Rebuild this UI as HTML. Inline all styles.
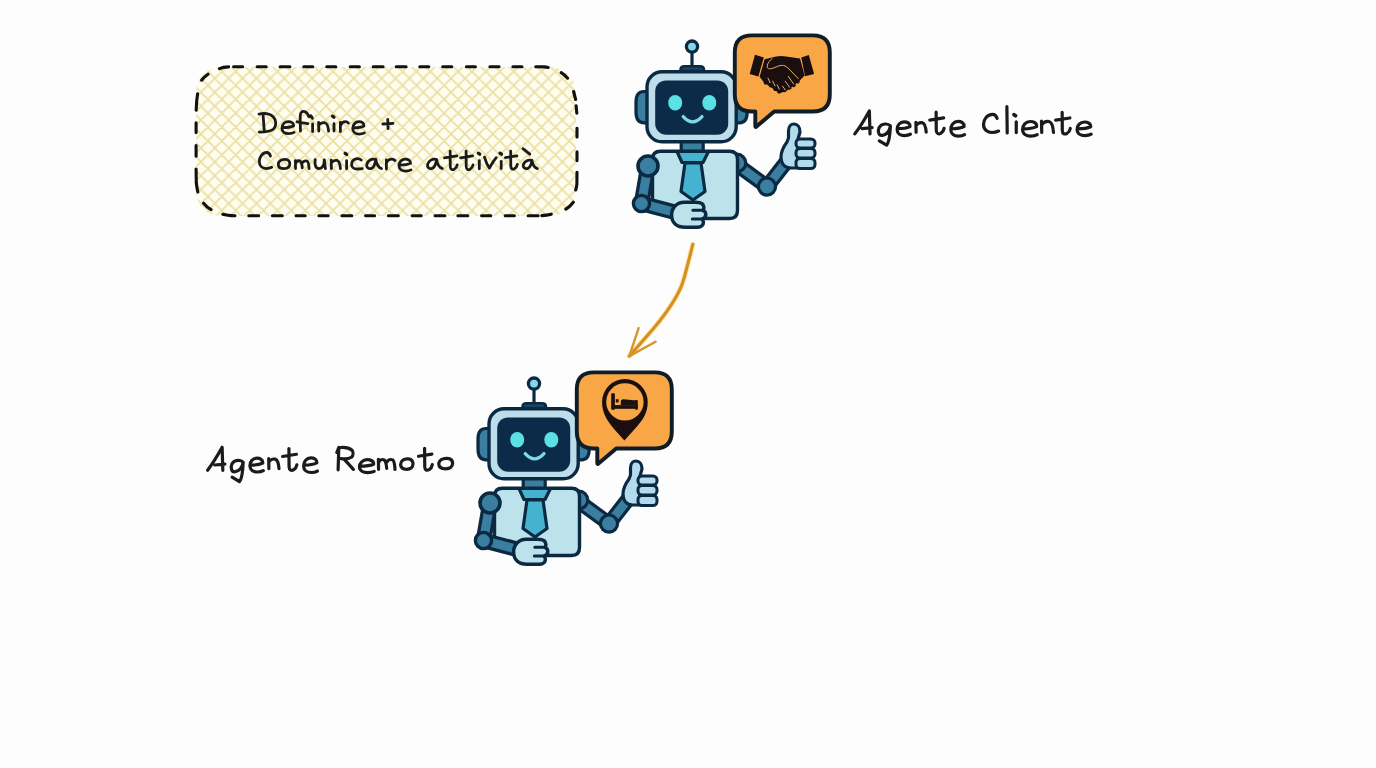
<!DOCTYPE html>
<html><head><meta charset="utf-8">
<style>
html,body{margin:0;padding:0;background:#fdfdfd;}
body{width:1376px;height:768px;overflow:hidden;font-family:"Liberation Sans",sans-serif;}
svg{display:block;position:absolute;left:0;top:0;}
</style></head>
<body>
<svg width="1376" height="768" viewBox="0 0 1376 768">
<defs>
<filter id="soft" x="-2%" y="-2%" width="104%" height="104%"><feGaussianBlur stdDeviation="0.75"/></filter>
<pattern id="hatch" patternUnits="userSpaceOnUse" width="13.9" height="13.9" patternTransform="translate(6.3,8.9)">
 <rect width="13.9" height="13.9" fill="#fefdf0"/>
 <path d="M0,13.9 L13.9,0 M-2,15.9 L2,11.9 M11.9,2 L15.9,-2 M0,0 L13.9,13.9 M-2,-2 L2,2 M11.9,11.9 L15.9,15.9" stroke="#ebdf9f" stroke-width="1.6"/>
</pattern>

</defs>

<!-- dashed box -->
<rect x="196" y="67" width="380" height="149" rx="25" fill="url(#hatch)" filter="url(#soft)"/>
<path d="M219.5,68.6Q223,67.2 228.6,66.9 M233.6,66.8L242.6,66.8 M257.1,66.8L266.2,66.8 M280.1,66.8L289.9,66.8 M303.8,66.8L312.8,66.8 M326.7,66.8L335.8,66.8 M350.2,66.8L359.4,66.8 M373.2,66.8L383.1,66.8 M396.2,66.8L406.1,66.8 M419.8,66.8L428.8,66.8 M442.7,66.8L451.8,66.8 M466.4,66.8L475.4,66.8 M489.9,66.8L499.1,66.8 M512.9,66.8L522.0,66.8 M535.7,66.8L544,66.9Q546.5,67 548.2,67.4 M201.6,80.2Q204.5,76.5 208,74.2 M197.6,93.8Q196.4,101 196.2,110.2 M196.1,122.8L196.1,132.6 M196.1,145.5L196.1,156.2 M196.1,169L196.3,183Q196.9,188 197.8,192 M203.6,203.2Q207,207.5 211.1,209.6 M222.8,214.3Q227,215.6 235,215.8 M248.8,215.7L258.6,215.7 M272.4,215.7L282.3,215.7 M296.1,215.7L305.2,215.7 M318.9,215.7L328.1,215.7 M341.9,215.7L351.8,215.7 M365.6,215.7L374.6,215.7 M388.4,215.7L398.3,215.7 M412.2,215.7L421.2,215.7 M435.1,215.7L444.9,215.7 M457.9,215.7L467.8,215.7 M481.6,215.7L490.8,215.7 M505.2,215.7L514.4,215.7 M528.1,215.7L538.1,215.7 M541.8,215.6Q547,215.3 551.2,214.2 M573.3,202.2Q569.8,206.8 565.8,209.2 M573.6,91.5L575.6,99.5 M576.1,105.7L576.8,113.1 M577.0,128.2L577.0,136.9 M577.0,151.9L577.0,160.6 M577,172.3L576.9,184Q576.5,187.5 575.7,190 M561.2,72.6Q565,75 567.6,78.2" fill="none" stroke="#111" stroke-width="3.1" stroke-linecap="round"/>


<g>
 <!-- antenna -->
 <line x1="692" y1="52" x2="692" y2="66" stroke="#0b2a42" stroke-width="3.2"/>
 <circle cx="692" cy="46.6" r="5.6" fill="#86d5e8" stroke="#0b2a42" stroke-width="3.3"/>
 <path d="M680.5,71 L680.5,70 Q680.5,66.2 684.5,66.2 L700,66.2 Q704,66.2 704,70 L704,71 Z" fill="#1a4866" stroke="#0b2a42" stroke-width="2.6" stroke-linejoin="round"/>
 <!-- ears -->
 <path d="M650,91.5 L644,91.5 C638.5,91.5 636,95.5 636,102 L636,112 C636,118.8 638.5,122.8 644,122.8 L650,122.8 Z" fill="#3a7ea0" stroke="#0b2a42" stroke-width="3.2"/>
 <path d="M733,91.5 L739.5,91.5 C745,91.5 747.2,95.5 747.2,102 L747.2,112 C747.2,118.8 745,122.8 739.5,122.8 L733,122.8 Z" fill="#3a7ea0" stroke="#0b2a42" stroke-width="3.2"/>
 <!-- neck -->
 <rect x="681.2" y="140" width="22" height="12" fill="#3a7ea0" stroke="#0b2a42" stroke-width="3.2"/>
 <!-- head -->
 <rect x="647" y="71.8" width="89.2" height="70" rx="15" fill="#bcdde9" stroke="#0b2a42" stroke-width="3.4"/>
 <rect x="655.2" y="80.4" width="73" height="54.4" rx="11" fill="#0b2b48"/>
 <ellipse cx="675.2" cy="102.8" rx="7" ry="7.8" fill="#5ae0e5"/>
 <ellipse cx="709.3" cy="102.8" rx="7" ry="7.8" fill="#5ae0e5"/>
 <path d="M683.2,116.6 Q692.6,127 702,116.6" fill="none" stroke="#7cdbe6" stroke-width="3.3" stroke-linecap="round"/>
 <!-- right arm -->
 <path d="M736,164 L767,186.6 L787,161" fill="none" stroke="#0b2a42" stroke-width="15.2" stroke-linejoin="round"/>
 <path d="M736,164 L767,186.6 L787,161" fill="none" stroke="#3a7ea0" stroke-width="8.8" stroke-linejoin="round"/>
 <circle cx="767" cy="186.6" r="8.6" fill="#3a7ea0" stroke="#0b2a42" stroke-width="3.2"/>
 <circle cx="737" cy="163" r="8.8" fill="#3a7ea0" stroke="#0b2a42" stroke-width="3.2"/>
 <!-- body -->
 <path d="M660.5,151.2 L729.5,151.2 Q737.5,151.2 737.5,159.2 L737.5,210.5 Q737.5,218.5 729.5,218.5 L680,218.5 L652.5,207 L652.5,159.2 Q652.5,151.2 660.5,151.2 Z" fill="#bce2eb" stroke="#0b2a42" stroke-width="3.4"/>
 <!-- tie -->
 <path d="M677,151.5 L708.5,151.5 L703,162.5 L682,162.5 Z" fill="#45b2d0" stroke="#0b2a42" stroke-width="3.2" stroke-linejoin="round"/>
 <path d="M685,163 L701,163 L705,191.5 L693,200 L681,191.5 Z" fill="#45b2d0" stroke="#0b2a42" stroke-width="3.2" stroke-linejoin="round"/>
 <!-- left arm -->
 <path d="M648,166 L641.5,203.5 L675,212.3" fill="none" stroke="#0b2a42" stroke-width="15.6" stroke-linejoin="round"/>
 <path d="M648,166 L641.5,203.5 L675,212.3" fill="none" stroke="#3a7ea0" stroke-width="9" stroke-linejoin="round"/>
 <circle cx="648" cy="166" r="10" fill="#3a7ea0" stroke="#0b2a42" stroke-width="3.6"/>
 <circle cx="641.5" cy="203.5" r="8.1" fill="#3a7ea0" stroke="#0b2a42" stroke-width="3.4"/>
 <!-- left hand -->
 <path d="M684.5,202.3 C676.5,202.3 671.6,208 671.6,215 C671.6,223 677,227.2 685,227.2 L697.5,227.2 C701.5,227.2 703.4,225 703.4,222.5 C703.4,221 702.8,219.8 702,219.2 C704.8,218.3 705.8,216.5 705.8,214.6 C705.8,212.6 704.8,211 703,210.3 C703.6,209.5 703.9,208.5 703.9,207.5 C703.9,204 700.5,202.3 695.5,202.3 Z" fill="#bce2eb" stroke="#0b2a42" stroke-width="3.5" stroke-linejoin="round"/>
 <path d="M692.8,210.3 L703,210.3 M692.3,219.1 L702.5,219.1" stroke="#0b2a42" stroke-width="3" stroke-linecap="round"/>
 <!-- thumbs up -->
 <path d="M798,168 L791,168 C785,168 781,164 781,157 C781,150 784,146 787,142 L788.5,138 L788.5,131 C788.5,126.5 791,124 794,124 C797.5,124 800,127 800,132 L798,139 Z" fill="#b2dcee" stroke="#0b2a42" stroke-width="3.2" stroke-linejoin="round"/>
 <rect x="796" y="139" width="19" height="9" rx="4" fill="#b2dcee" stroke="#0b2a42" stroke-width="3"/>
 <rect x="796" y="148.5" width="19" height="9.5" rx="4" fill="#b2dcee" stroke="#0b2a42" stroke-width="3"/>
 <rect x="796" y="158.5" width="19" height="10" rx="4" fill="#b2dcee" stroke="#0b2a42" stroke-width="3"/>
 <!-- bubble -->
 <path d="M752,35.4 L812.8,35.4 Q829.8,35.4 829.8,52.4 L829.8,94.5 Q829.8,111.5 812.8,111.5 L774.2,111.5 L756.5,126.5 Q755.3,127.6 755.3,126 L755.3,111.5 L751.8,111.5 Q734.8,111.5 734.8,94.5 L734.8,52.4 Q734.8,35.4 751.8,35.4 Z" fill="#f9a646" stroke="#101d26" stroke-width="3.9" stroke-linejoin="round"/>
</g>
<g transform="translate(-158,337)">
 <!-- antenna -->
 <line x1="692" y1="52" x2="692" y2="66" stroke="#0b2a42" stroke-width="3.2"/>
 <circle cx="692" cy="46.6" r="5.6" fill="#86d5e8" stroke="#0b2a42" stroke-width="3.3"/>
 <path d="M680.5,71 L680.5,70 Q680.5,66.2 684.5,66.2 L700,66.2 Q704,66.2 704,70 L704,71 Z" fill="#1a4866" stroke="#0b2a42" stroke-width="2.6" stroke-linejoin="round"/>
 <!-- ears -->
 <path d="M650,91.5 L644,91.5 C638.5,91.5 636,95.5 636,102 L636,112 C636,118.8 638.5,122.8 644,122.8 L650,122.8 Z" fill="#3a7ea0" stroke="#0b2a42" stroke-width="3.2"/>
 <path d="M733,91.5 L739.5,91.5 C745,91.5 747.2,95.5 747.2,102 L747.2,112 C747.2,118.8 745,122.8 739.5,122.8 L733,122.8 Z" fill="#3a7ea0" stroke="#0b2a42" stroke-width="3.2"/>
 <!-- neck -->
 <rect x="681.2" y="140" width="22" height="12" fill="#3a7ea0" stroke="#0b2a42" stroke-width="3.2"/>
 <!-- head -->
 <rect x="647" y="71.8" width="89.2" height="70" rx="15" fill="#bcdde9" stroke="#0b2a42" stroke-width="3.4"/>
 <rect x="655.2" y="80.4" width="73" height="54.4" rx="11" fill="#0b2b48"/>
 <ellipse cx="675.2" cy="102.8" rx="7" ry="7.8" fill="#5ae0e5"/>
 <ellipse cx="709.3" cy="102.8" rx="7" ry="7.8" fill="#5ae0e5"/>
 <path d="M683.2,116.6 Q692.6,127 702,116.6" fill="none" stroke="#7cdbe6" stroke-width="3.3" stroke-linecap="round"/>
 <!-- right arm -->
 <path d="M736,164 L767,186.6 L787,161" fill="none" stroke="#0b2a42" stroke-width="15.2" stroke-linejoin="round"/>
 <path d="M736,164 L767,186.6 L787,161" fill="none" stroke="#3a7ea0" stroke-width="8.8" stroke-linejoin="round"/>
 <circle cx="767" cy="186.6" r="8.6" fill="#3a7ea0" stroke="#0b2a42" stroke-width="3.2"/>
 <circle cx="737" cy="163" r="8.8" fill="#3a7ea0" stroke="#0b2a42" stroke-width="3.2"/>
 <!-- body -->
 <path d="M660.5,151.2 L729.5,151.2 Q737.5,151.2 737.5,159.2 L737.5,210.5 Q737.5,218.5 729.5,218.5 L680,218.5 L652.5,207 L652.5,159.2 Q652.5,151.2 660.5,151.2 Z" fill="#bce2eb" stroke="#0b2a42" stroke-width="3.4"/>
 <!-- tie -->
 <path d="M677,151.5 L708.5,151.5 L703,162.5 L682,162.5 Z" fill="#45b2d0" stroke="#0b2a42" stroke-width="3.2" stroke-linejoin="round"/>
 <path d="M685,163 L701,163 L705,191.5 L693,200 L681,191.5 Z" fill="#45b2d0" stroke="#0b2a42" stroke-width="3.2" stroke-linejoin="round"/>
 <!-- left arm -->
 <path d="M648,166 L641.5,203.5 L675,212.3" fill="none" stroke="#0b2a42" stroke-width="15.6" stroke-linejoin="round"/>
 <path d="M648,166 L641.5,203.5 L675,212.3" fill="none" stroke="#3a7ea0" stroke-width="9" stroke-linejoin="round"/>
 <circle cx="648" cy="166" r="10" fill="#3a7ea0" stroke="#0b2a42" stroke-width="3.6"/>
 <circle cx="641.5" cy="203.5" r="8.1" fill="#3a7ea0" stroke="#0b2a42" stroke-width="3.4"/>
 <!-- left hand -->
 <path d="M684.5,202.3 C676.5,202.3 671.6,208 671.6,215 C671.6,223 677,227.2 685,227.2 L697.5,227.2 C701.5,227.2 703.4,225 703.4,222.5 C703.4,221 702.8,219.8 702,219.2 C704.8,218.3 705.8,216.5 705.8,214.6 C705.8,212.6 704.8,211 703,210.3 C703.6,209.5 703.9,208.5 703.9,207.5 C703.9,204 700.5,202.3 695.5,202.3 Z" fill="#bce2eb" stroke="#0b2a42" stroke-width="3.5" stroke-linejoin="round"/>
 <path d="M692.8,210.3 L703,210.3 M692.3,219.1 L702.5,219.1" stroke="#0b2a42" stroke-width="3" stroke-linecap="round"/>
 <!-- thumbs up -->
 <path d="M798,168 L791,168 C785,168 781,164 781,157 C781,150 784,146 787,142 L788.5,138 L788.5,131 C788.5,126.5 791,124 794,124 C797.5,124 800,127 800,132 L798,139 Z" fill="#b2dcee" stroke="#0b2a42" stroke-width="3.2" stroke-linejoin="round"/>
 <rect x="796" y="139" width="19" height="9" rx="4" fill="#b2dcee" stroke="#0b2a42" stroke-width="3"/>
 <rect x="796" y="148.5" width="19" height="9.5" rx="4" fill="#b2dcee" stroke="#0b2a42" stroke-width="3"/>
 <rect x="796" y="158.5" width="19" height="10" rx="4" fill="#b2dcee" stroke="#0b2a42" stroke-width="3"/>
 <!-- bubble -->
 <path d="M752,35.4 L812.8,35.4 Q829.8,35.4 829.8,52.4 L829.8,94.5 Q829.8,111.5 812.8,111.5 L774.2,111.5 L756.5,126.5 Q755.3,127.6 755.3,126 L755.3,111.5 L751.8,111.5 Q734.8,111.5 734.8,94.5 L734.8,52.4 Q734.8,35.4 751.8,35.4 Z" fill="#f9a646" stroke="#101d26" stroke-width="3.9" stroke-linejoin="round"/>
</g>

<!-- handshake -->
<g>
 <path d="M755,54.7 L763.8,57.5 L758.4,76.6 L749.7,74.1 Z" fill="#1a0e0e"/>
 <path d="M801.3,57.5 L808.8,55 L814.1,74.1 L805,76.3 Z" fill="#1a0e0e"/>
 <path d="M764.6,59.3 L772,57.6 Q778,55.3 786,56.4 L800,58.6 L804.6,75.6 L798.8,81.5 L786,91.5 L779,93 L772,88 L764,82.5 L759.6,76.8 Z" fill="#1a0e0e"/>
 <g stroke="#1a0e0e" stroke-width="3.9" stroke-linecap="round">
  <path d="M765.6,82.6 L768.8,79.6 M770.6,85.5 L773.8,82.5 M775.2,89 L778.2,86 M779.2,91.6 L781.5,89.3"/>
  <path d="M782.5,85 L784.4,90.2 M787,82 L789.6,87.8 M791,78.5 L793.8,85.2 M795,75 L797.8,81.6"/>
 </g>
 <path d="M772.5,58.2 C769,61 766.8,64.5 767.3,67.3 C768,69.8 772,68.8 776.5,66.8 C781,64.8 784,64.8 787.5,67.5 L798.5,78.8" fill="none" stroke="#f3b878" stroke-width="0.95"/>
 <g fill="none" stroke="#f0c090" stroke-width="0.9">
  <path d="M788.1,76.1 L793.8,84.2 M785,80.9 L789.8,87.6 M782.3,85.9 L785.7,90.3"/>
  <path d="M767.8,77.8 L770.3,83 M772.5,80.8 L775.2,86.3 M777,84.5 L779.4,89.5"/>
 </g>
</g>
<!-- pin -->
<g transform="translate(0,0)">
 <path d="M602.1,401.9 C602.1,412 606,419 613.6,428.4 L624.4,440.4 L635.2,428.4 C643.8,419 647.7,412 647.7,401.9 A22.8,22.8 0 0 0 602.1,401.9 Z" fill="#1a0e0e"/>
 <circle cx="624.9" cy="401.9" r="18.7" fill="#f9a646"/>
 <rect x="611.2" y="393.2" width="3.7" height="16.5" rx="1" fill="#1c1010"/>
 <rect x="611.7" y="405.1" width="26" height="3.7" fill="#1c1010"/>
 <rect x="635" y="400" width="2.8" height="9.7" rx="1" fill="#1c1010"/>
 <rect x="615.8" y="399.2" width="2.8" height="3.2" fill="#1c1010"/>
 <path d="M620.8,405 L620.8,402 Q620.8,399.2 623.5,399.2 L636.3,400.5 L636.3,405 Z" fill="#1c1010"/>
</g>

<!-- arrow -->
<path d="M692.8,244.3 C692.0,247.3 690.2,255.2 688.3,262.1 C686.4,269.0 684.5,278.5 681.5,285.8 C678.5,293.1 674.9,299.2 670.4,306.1 C665.9,313.0 661.4,319.0 654.5,327.3 C647.6,335.6 633.5,351.3 629.3,356.1" fill="none" stroke="#f6cf6e" stroke-opacity="0.55" stroke-width="5" stroke-linecap="round"/>
<path d="M692.8,244.3 C692.0,247.3 690.2,255.2 688.3,262.1 C686.4,269.0 684.5,278.5 681.5,285.8 C678.5,293.1 674.9,299.2 670.4,306.1 C665.9,313.0 661.4,319.0 654.5,327.3 C647.6,335.6 633.5,351.3 629.3,356.1" fill="none" stroke="#d98f1d" stroke-width="3.1" stroke-linecap="round"/>
<path d="M638.6,328.1 L629.3,356.1 L655.6,341.7" fill="none" stroke="#d4962c" stroke-width="2.4" stroke-linecap="round" stroke-linejoin="round"/>

<g fill="none" stroke="#1b1b1b" stroke-width="2.8" stroke-linecap="round" stroke-linejoin="round" vector-effect="non-scaling-stroke">
<path vector-effect="non-scaling-stroke" transform="matrix(0.1727,0,0,0.1965,259.000,112.841)" d="M0,6 C30,0 62,4 82,20 C102,38 102,66 84,82 C64,97 30,98 2,98 M24,14 L30,88"/>
<path vector-effect="non-scaling-stroke" transform="matrix(0.1220,0,0,0.1190,281.900,121.700)" d="M6,50 C35,50 75,45 96,35 C98,10 75,0 52,0 C22,0 0,25 0,55 C0,85 25,100 55,100 C75,100 90,96 100,90"/>
<path vector-effect="non-scaling-stroke" transform="matrix(0.1530,0,0,0.1983,297.100,111.271)" d="M100,36 C96,27 91,21 86,23 C82,25 80,29 77,27 C72,17 66,7 55,3 C45,0 31,0 25,8 C21,14 20,22 20,30 L22,100 M0,53 L70,62"/>
<path vector-effect="non-scaling-stroke" d="M312.60,123.90 L312.60,131.60"/>
<path vector-effect="non-scaling-stroke" transform="matrix(0.1000,0,0,0.0870,318.600,122.400)" d="M0,0 L2,100 M1,32 C18,8 40,0 62,4 C88,10 96,45 100,100"/>
<path vector-effect="non-scaling-stroke" d="M332.50,116.20 L333.90,117.20" stroke-width="3.40"/>
<path vector-effect="non-scaling-stroke" d="M334.00,123.70 L334.00,131.10"/>
<path vector-effect="non-scaling-stroke" transform="matrix(0.0800,0,0,0.0990,340.400,121.700)" d="M0,8 L0,100 M0,40 C15,10 40,0 62,0 C80,0 92,6 100,14"/>
<path vector-effect="non-scaling-stroke" transform="matrix(0.1170,0,0,0.1240,352.700,121.700)" d="M6,50 C35,50 75,45 96,35 C98,10 75,0 52,0 C22,0 0,25 0,55 C0,85 25,100 55,100 C75,100 90,96 100,90"/>
<path vector-effect="non-scaling-stroke" transform="matrix(0.1020,0,0,0.0920,382.800,119.400)" d="M0,50 L100,44 M48,0 L52,100"/>
<path vector-effect="non-scaling-stroke" transform="matrix(0.1240,0,0,0.1610,259.300,152.500)" d="M90,22 C85,8 75,0 60,0 C25,0 0,28 0,56 C0,85 28,100 56,100 C76,100 90,96 100,92"/>
<path vector-effect="non-scaling-stroke" transform="matrix(0.1150,0,0,0.0919,278.300,159.412)" d="M60,0 C25,-2 0,20 0,55 C0,85 20,100 50,100 C82,100 100,78 100,48 C100,20 85,2 60,0 Z"/>
<path vector-effect="non-scaling-stroke" transform="matrix(0.1370,0,0,0.0816,295.400,160.437)" d="M0,2 L1,100 M1,34 C8,8 22,0 32,6 C45,14 48,45 50,92 M49,32 C58,6 75,0 86,8 C96,18 98,50 100,100"/>
<path vector-effect="non-scaling-stroke" transform="matrix(0.1106,0,0,0.0900,314.342,159.600)" d="M8,0 C2,50 8,100 42,100 C76,100 90,62 90,2 L100,100"/>
<path vector-effect="non-scaling-stroke" transform="matrix(0.0920,0,0,0.0850,331.200,160.100)" d="M0,0 L2,100 M1,32 C18,8 40,0 62,4 C88,10 96,45 100,100"/>
<path vector-effect="non-scaling-stroke" d="M345.20,153.40 L346.60,154.40" stroke-width="3.40"/>
<path vector-effect="non-scaling-stroke" d="M346.60,160.70 L346.60,168.80"/>
<path vector-effect="non-scaling-stroke" transform="matrix(0.1070,0,0,0.1063,351.600,158.368)" d="M90,16 C75,2 55,0 40,4 C12,12 0,38 0,60 C0,86 25,100 52,100 C72,100 88,98 100,96"/>
<path vector-effect="non-scaling-stroke" transform="matrix(0.1500,0,0,0.1036,366.503,158.387)" d="M60,10 C35,-2 8,22 2,58 C-2,85 12,102 30,98 C46,94 56,70 62,8 C66,52 80,88 100,98"/>
<path vector-effect="non-scaling-stroke" transform="matrix(0.0860,0,0,0.0990,386.400,159.100)" d="M0,8 L0,100 M0,40 C15,10 40,0 62,0 C80,0 92,6 100,14"/>
<path vector-effect="non-scaling-stroke" transform="matrix(0.1200,0,0,0.1200,399.000,159.100)" d="M6,50 C35,50 75,45 96,35 C98,10 75,0 52,0 C22,0 0,25 0,55 C0,85 25,100 55,100 C75,100 90,96 100,90"/>
<path vector-effect="non-scaling-stroke" transform="matrix(0.1500,0,0,0.1025,427.303,158.495)" d="M60,10 C35,-2 8,22 2,58 C-2,85 12,102 30,98 C46,94 56,70 62,8 C66,52 80,88 100,98"/>
<path vector-effect="non-scaling-stroke" transform="matrix(0.1347,0,0,0.1861,444.096,151.100)" d="M45,0 L46,84 C47,100 62,102 76,97 C88,92 96,82 98,74 M3,36 L95,26"/>
<path vector-effect="non-scaling-stroke" transform="matrix(0.1305,0,0,0.1861,460.208,151.100)" d="M45,0 L46,84 C47,100 62,102 76,97 C88,92 96,82 98,74 M3,36 L95,26"/>
<path vector-effect="non-scaling-stroke" d="M478.30,153.20 L479.70,154.20" stroke-width="3.40"/>
<path vector-effect="non-scaling-stroke" d="M479.30,160.70 L479.30,168.80"/>
<path vector-effect="non-scaling-stroke" transform="matrix(0.1170,0,0,0.1090,484.500,157.200)" d="M0,0 C10,40 28,80 42,100 C58,70 80,30 100,4"/>
<path vector-effect="non-scaling-stroke" d="M500.00,153.20 L501.40,154.20" stroke-width="3.40"/>
<path vector-effect="non-scaling-stroke" d="M501.20,161.30 L501.20,168.60"/>
<path vector-effect="non-scaling-stroke" transform="matrix(0.1253,0,0,0.1810,505.024,151.100)" d="M45,0 L46,84 C47,100 62,102 76,97 C88,92 96,82 98,74 M3,36 L95,26"/>
<path vector-effect="non-scaling-stroke" transform="matrix(0.0680,0,0,0.0550,523.000,148.700)" d="M0,0 L100,100"/>
<path vector-effect="non-scaling-stroke" transform="matrix(0.1439,0,0,0.0916,523.011,159.570)" d="M60,10 C35,-2 8,22 2,58 C-2,85 12,102 30,98 C46,94 56,70 62,8 C66,52 80,88 100,98"/>
</g>
<g fill="none" stroke="#1b1b1b" stroke-width="3.2" stroke-linecap="round" stroke-linejoin="round">
<path vector-effect="non-scaling-stroke" transform="matrix(0.1730,0,0,0.2300,854.800,110.900)" d="M0,100 Q40,60 84,0 L88,100 M42,77 L100,73"/>
<path vector-effect="non-scaling-stroke" transform="matrix(0.1304,0,0,0.2189,877.750,123.311)" d="M97,12 C80,0 30,-2 10,20 C-2,38 8,58 35,55 C65,52 90,35 97,12 L93,45 C88,75 80,92 68,100 L12,80"/>
<path vector-effect="non-scaling-stroke" transform="matrix(0.1340,0,0,0.1380,897.100,121.800)" d="M6,50 C35,50 75,45 96,35 C98,10 75,0 52,0 C22,0 0,25 0,55 C0,85 25,100 55,100 C75,100 90,96 100,90"/>
<path vector-effect="non-scaling-stroke" transform="matrix(0.1030,0,0,0.0990,915.900,122.300)" d="M0,0 L2,100 M1,32 C18,8 40,0 62,4 C88,10 96,45 100,100"/>
<path vector-effect="non-scaling-stroke" transform="matrix(0.1505,0,0,0.2183,929.348,112.200)" d="M45,0 L46,84 C47,100 62,102 76,97 C88,92 96,82 98,74 M3,36 L95,26"/>
<path vector-effect="non-scaling-stroke" transform="matrix(0.1380,0,0,0.1470,950.800,121.400)" d="M6,50 C35,50 75,45 96,35 C98,10 75,0 52,0 C22,0 0,25 0,55 C0,85 25,100 55,100 C75,100 90,96 100,90"/>
<path vector-effect="non-scaling-stroke" transform="matrix(0.1510,0,0,0.1810,983.500,114.400)" d="M90,22 C85,8 75,0 60,0 C25,0 0,28 0,56 C0,85 28,100 56,100 C76,100 90,96 100,92"/>
<path vector-effect="non-scaling-stroke" d="M1006.90,106.70 L1007.20,133.00"/>
<path vector-effect="non-scaling-stroke" d="M1014.10,114.70 L1015.50,115.70" stroke-width="3.80"/>
<path vector-effect="non-scaling-stroke" d="M1016.25,121.80 L1016.25,132.60"/>
<path vector-effect="non-scaling-stroke" transform="matrix(0.1460,0,0,0.1460,1022.600,121.500)" d="M6,50 C35,50 75,45 96,35 C98,10 75,0 52,0 C22,0 0,25 0,55 C0,85 25,100 55,100 C75,100 90,96 100,90"/>
<path vector-effect="non-scaling-stroke" transform="matrix(0.1200,0,0,0.1150,1041.500,121.000)" d="M0,0 L2,100 M1,32 C18,8 40,0 62,4 C88,10 96,45 100,100"/>
<path vector-effect="non-scaling-stroke" transform="matrix(0.1537,0,0,0.2183,1055.239,112.300)" d="M45,0 L46,84 C47,100 62,102 76,97 C88,92 96,82 98,74 M3,36 L95,26"/>
<path vector-effect="non-scaling-stroke" transform="matrix(0.1410,0,0,0.1360,1077.100,122.000)" d="M6,50 C35,50 75,45 96,35 C98,10 75,0 52,0 C22,0 0,25 0,55 C0,85 25,100 55,100 C75,100 90,96 100,90"/>
<path vector-effect="non-scaling-stroke" transform="matrix(0.1730,0,0,0.2300,207.600,447.300)" d="M0,100 Q40,60 84,0 L88,100 M42,77 L100,73"/>
<path vector-effect="non-scaling-stroke" transform="matrix(0.1304,0,0,0.2189,230.550,459.711)" d="M97,12 C80,0 30,-2 10,20 C-2,38 8,58 35,55 C65,52 90,35 97,12 L93,45 C88,75 80,92 68,100 L12,80"/>
<path vector-effect="non-scaling-stroke" transform="matrix(0.1340,0,0,0.1380,249.900,458.200)" d="M6,50 C35,50 75,45 96,35 C98,10 75,0 52,0 C22,0 0,25 0,55 C0,85 25,100 55,100 C75,100 90,96 100,90"/>
<path vector-effect="non-scaling-stroke" transform="matrix(0.1030,0,0,0.0990,268.700,458.700)" d="M0,0 L2,100 M1,32 C18,8 40,0 62,4 C88,10 96,45 100,100"/>
<path vector-effect="non-scaling-stroke" transform="matrix(0.1505,0,0,0.2183,282.148,448.600)" d="M45,0 L46,84 C47,100 62,102 76,97 C88,92 96,82 98,74 M3,36 L95,26"/>
<path vector-effect="non-scaling-stroke" transform="matrix(0.1380,0,0,0.1470,303.600,457.800)" d="M6,50 C35,50 75,45 96,35 C98,10 75,0 52,0 C22,0 0,25 0,55 C0,85 25,100 55,100 C75,100 90,96 100,90"/>
<path vector-effect="non-scaling-stroke" transform="matrix(0.1660,0,0,0.2323,336.800,447.035)" d="M0,24 L12,2 L8,98 M12,3 C40,0 75,4 92,14 C100,22 100,36 88,44 C70,52 45,52 25,50 M44,52 L100,96"/>
<path vector-effect="non-scaling-stroke" transform="matrix(0.1470,0,0,0.1290,359.500,459.700)" d="M6,50 C35,50 75,45 96,35 C98,10 75,0 52,0 C22,0 0,25 0,55 C0,85 25,100 55,100 C75,100 90,96 100,90"/>
<path vector-effect="non-scaling-stroke" transform="matrix(0.1660,0,0,0.1020,378.400,459.096)" d="M0,2 L1,100 M1,34 C8,8 22,0 32,6 C45,14 48,45 50,92 M49,32 C58,6 75,0 86,8 C96,18 98,50 100,100"/>
<path vector-effect="non-scaling-stroke" transform="matrix(0.1240,0,0,0.1049,400.600,458.813)" d="M60,0 C25,-2 0,20 0,55 C0,85 20,100 50,100 C82,100 100,78 100,48 C100,20 85,2 60,0 Z"/>
<path vector-effect="non-scaling-stroke" transform="matrix(0.1453,0,0,0.2193,418.064,448.400)" d="M45,0 L46,84 C47,100 62,102 76,97 C88,92 96,82 98,74 M3,36 L95,26"/>
<path vector-effect="non-scaling-stroke" transform="matrix(0.1380,0,0,0.1049,438.800,458.313)" d="M60,0 C25,-2 0,20 0,55 C0,85 20,100 50,100 C82,100 100,78 100,48 C100,20 85,2 60,0 Z"/>
</g>
</svg>
</body></html>
